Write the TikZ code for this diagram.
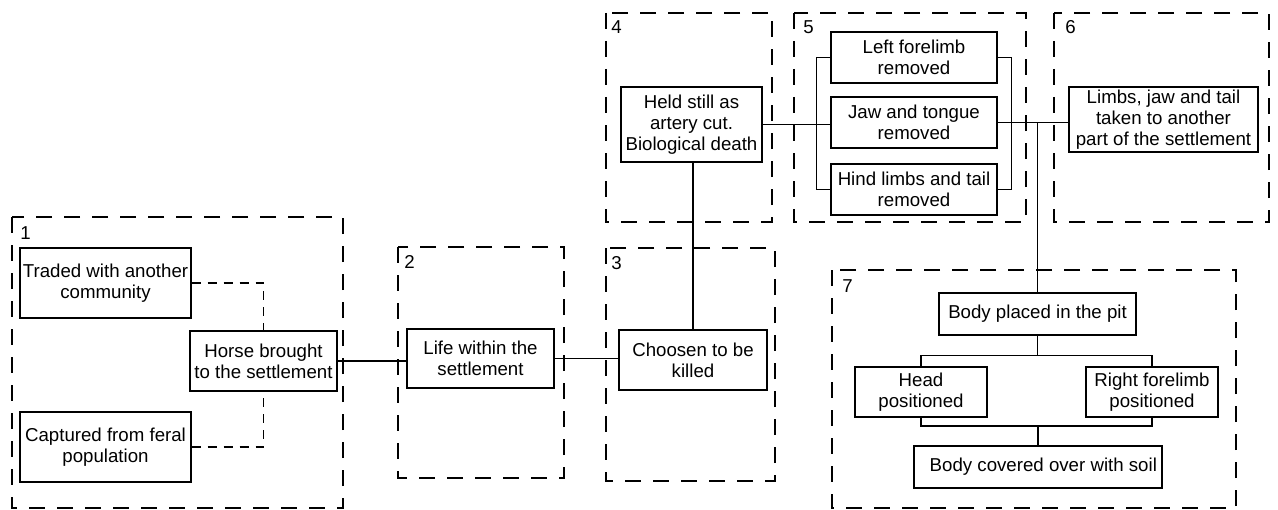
\documentclass[tikz,border=0pt]{standalone}
\usepackage{fontspec}
\setmainfont{Liberation Sans}
\begin{document}
\begin{tikzpicture}[x=0.75pt,y=-0.75pt,
  box/.style={draw, line width=0.8pt, align=center, inner sep=0pt, font=\fontsize{14}{15.8}\selectfont},
  frame/.style={draw, line width=0.8pt, dash pattern=on 12pt off 9pt},
  lbl/.style={anchor=north west, inner sep=0pt, font=\fontsize{14}{15}\selectfont},
  conn/.style={line width=0.8pt},
  dconn/.style={line width=0.8pt, dash pattern=on 7pt off 5pt}]
\useasboundingbox (0,0) rectangle (1278,510);
% frames
\draw[frame] (12,217) rectangle (343,508);
\draw[frame] (398,247) rectangle (564,478);
\draw[frame] (606,248) rectangle (775,481);
\draw[frame] (606,13) rectangle (772,222);
\draw[frame] (794,13) rectangle (1026,222);
\draw[frame] (1054,13) rectangle (1269,222);
\draw[frame] (832,270) rectangle (1236,508);
\node[lbl] (g1) at (20,226) {1};
\node[lbl] (g2) at (404,255) {2};
\node[lbl] (g3) at (611,256) {3};
\node[lbl] (g4) at (611,20) {4};
\node[lbl] (g5) at (803,20) {5};
\node[lbl] (g6) at (1065,20) {6};
\node[lbl] (g7) at (842,279) {7};
% nodes
\node[box, minimum width=128.25pt, minimum height=52.5pt] (traded) at (105.5,283) {Traded with another\\community};
\node[box, minimum width=128.25pt, minimum height=52.5pt] (captured) at (105.5,447) {Captured from feral\\population};
\node[box, minimum width=110.25pt, minimum height=45pt] (horse) at (263.5,361) {Horse brought\\to the settlement};
\node[box, minimum width=110.25pt, minimum height=44.25pt] (life) at (480.5,358.5) {Life within the\\settlement};
\node[box, minimum width=111pt, minimum height=45pt] (choosen) at (693,360) {Choosen to be\\killed};
\node[box, minimum width=105.75pt, minimum height=56.25pt] (held) at (691.5,124.5) {Held still as\\artery cut.\\Biological death};
\node[box, minimum width=124.5pt, minimum height=38.25pt] (left) at (914,57.5) {Left forelimb\\removed};
\node[box, minimum width=124.5pt, minimum height=38.25pt] (jaw) at (914,122.5) {Jaw and tongue\\removed};
\node[box, minimum width=124.5pt, minimum height=38.25pt] (hind) at (914,189.5) {Hind limbs and tail\\removed};
\node[box, minimum width=141.75pt, minimum height=48.75pt] (limbs) at (1163.5,119.5) {Limbs, jaw and tail\\taken to another\\part of the settlement};
\node[box, minimum width=147.75pt, minimum height=31.5pt] (bodyp) at (1037.5,314) {Body placed in the pit};
\node[box, minimum width=99pt, minimum height=37.5pt] (head) at (921,392) {Head\\positioned};
\node[box, minimum width=99pt, minimum height=37.5pt] (rfl) at (1152,392) {Right forelimb\\positioned};
\node[box, minimum width=186pt, minimum height=31.5pt] (bodyc) at (1038,467) {\hspace*{8pt}Body covered over with soil};
% connectors
\draw[dconn] (traded.east) -| (horse.north);
\draw[dconn] (captured.east) -| (horse.south);
\draw[conn] (horse.east) -- (horse.east -| life.west);
\draw[conn] (life.east) -- (life.east -| choosen.west);
\draw[conn] (choosen.north) -- (choosen.north |- held.south);
\draw[conn] (held.east) -- (held.east -| jaw.west);
\draw[conn] (left.west) -- ++(-14,0) |- (hind.west);
\draw[conn] (left.east) -- ++(14,0) |- (hind.east);
\draw[conn] (jaw.east) -- (jaw.east -| limbs.west);
\coordinate (jn) at (jaw.east -| bodyp.north);
\draw[conn] (jn) -- (bodyp.north);
\draw[conn] (bodyp.south) -- ++(0,20) coordinate (f1);
\draw[conn] (head.north) |- (f1) -| (rfl.north);
\coordinate (f2) at (1038,426);
\draw[conn] (head.south) |- (f2) -| (rfl.south);
\draw[conn] (f2) -- (bodyc.north);
\end{tikzpicture}
\end{document}
